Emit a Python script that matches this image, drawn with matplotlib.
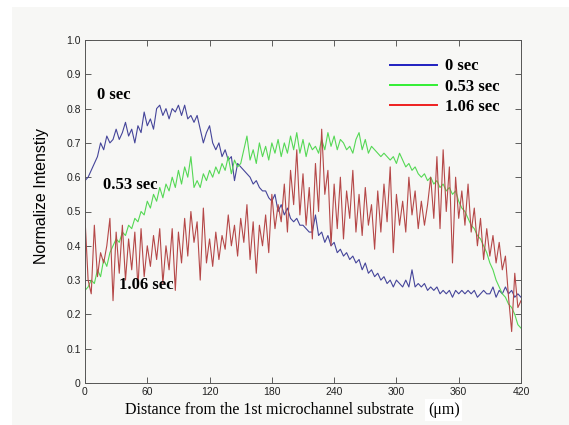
import numpy as np
import matplotlib
matplotlib.use("Agg")
import matplotlib.pyplot as plt
from matplotlib.lines import Line2D
from matplotlib.patches import Rectangle

# intensity profiles, one value every 3 um (0..420)
blue_0s = [0.59, 0.60, 0.62, 0.64, 0.66, 0.70, 0.68, 0.72, 0.70, 0.71,
           0.74, 0.71, 0.73, 0.76, 0.72, 0.74, 0.70, 0.75, 0.73, 0.79,
           0.75, 0.77, 0.74, 0.80, 0.81, 0.78, 0.80, 0.77, 0.80, 0.79,
           0.81, 0.78, 0.81, 0.77, 0.78, 0.76, 0.78, 0.74, 0.70, 0.73,
           0.75, 0.70, 0.68, 0.70, 0.66, 0.68, 0.65, 0.66, 0.59, 0.64,
           0.63, 0.62, 0.61, 0.60, 0.58, 0.59, 0.57, 0.56, 0.56, 0.54,
           0.53, 0.55, 0.50, 0.52, 0.49, 0.51, 0.48, 0.47, 0.48, 0.46,
           0.46, 0.45, 0.44, 0.44, 0.49, 0.43, 0.44, 0.41, 0.43, 0.40,
           0.41, 0.38, 0.39, 0.37, 0.38, 0.36, 0.37, 0.35, 0.36, 0.33,
           0.35, 0.32, 0.33, 0.31, 0.32, 0.30, 0.31, 0.29, 0.30, 0.28,
           0.30, 0.29, 0.28, 0.30, 0.28, 0.33, 0.28, 0.29, 0.28, 0.29,
           0.27, 0.28, 0.27, 0.28, 0.26, 0.27, 0.26, 0.27, 0.25, 0.27,
           0.26, 0.27, 0.26, 0.27, 0.26, 0.27, 0.25, 0.26, 0.27, 0.26,
           0.26, 0.28, 0.25, 0.27, 0.26, 0.28, 0.26, 0.27, 0.25, 0.26,
           0.25]

green_053s = [0.27, 0.28, 0.30, 0.29, 0.33, 0.31, 0.36, 0.34, 0.38, 0.40,
              0.42, 0.41, 0.44, 0.43, 0.46, 0.45, 0.48, 0.47, 0.50, 0.49,
              0.53, 0.51, 0.55, 0.53, 0.57, 0.54, 0.58, 0.56, 0.60, 0.57,
              0.62, 0.58, 0.63, 0.60, 0.66, 0.57, 0.59, 0.57, 0.61, 0.59,
              0.62, 0.60, 0.63, 0.61, 0.64, 0.62, 0.66, 0.61, 0.65, 0.63,
              0.64, 0.68, 0.72, 0.65, 0.68, 0.64, 0.70, 0.66, 0.69, 0.65,
              0.70, 0.67, 0.71, 0.66, 0.70, 0.67, 0.72, 0.68, 0.73, 0.67,
              0.71, 0.66, 0.70, 0.68, 0.69, 0.67, 0.71, 0.68, 0.73, 0.69,
              0.72, 0.68, 0.71, 0.70, 0.68, 0.69, 0.67, 0.71, 0.73, 0.68,
              0.71, 0.67, 0.69, 0.68, 0.67, 0.66, 0.67, 0.66, 0.65, 0.66,
              0.64, 0.67, 0.65, 0.63, 0.64, 0.62, 0.63, 0.61, 0.60, 0.61,
              0.59, 0.60, 0.58, 0.59, 0.57, 0.58, 0.56, 0.57, 0.55, 0.56,
              0.53, 0.51, 0.50, 0.48, 0.46, 0.45, 0.43, 0.42, 0.40, 0.38,
              0.35, 0.33, 0.30, 0.28, 0.26, 0.25, 0.23, 0.22, 0.20, 0.17,
              0.16]

red_106s = [0.48, 0.30, 0.26, 0.46, 0.31, 0.38, 0.35, 0.40, 0.48, 0.24,
            0.44, 0.32, 0.46, 0.30, 0.42, 0.33, 0.44, 0.28, 0.45, 0.31,
            0.40, 0.34, 0.43, 0.36, 0.45, 0.29, 0.40, 0.33, 0.45, 0.27,
            0.44, 0.35, 0.48, 0.37, 0.50, 0.41, 0.47, 0.30, 0.51, 0.35,
            0.42, 0.34, 0.44, 0.36, 0.43, 0.39, 0.49, 0.40, 0.46, 0.37,
            0.48, 0.41, 0.52, 0.36, 0.47, 0.32, 0.46, 0.40, 0.49, 0.38,
            0.55, 0.45, 0.52, 0.47, 0.58, 0.44, 0.62, 0.52, 0.68, 0.49,
            0.61, 0.46, 0.57, 0.42, 0.64, 0.50, 0.74, 0.55, 0.62, 0.40,
            0.58, 0.45, 0.60, 0.42, 0.56, 0.48, 0.62, 0.44, 0.55, 0.43,
            0.57, 0.46, 0.52, 0.39, 0.56, 0.44, 0.58, 0.47, 0.63, 0.38,
            0.55, 0.46, 0.53, 0.44, 0.60, 0.49, 0.56, 0.45, 0.53, 0.46,
            0.52, 0.60, 0.48, 0.66, 0.45, 0.68, 0.50, 0.63, 0.35, 0.60,
            0.48, 0.56, 0.46, 0.58, 0.44, 0.51, 0.40, 0.48, 0.36, 0.45,
            0.37, 0.43, 0.35, 0.41, 0.33, 0.37, 0.25, 0.15, 0.32, 0.22,
            0.24]

labels = ["0 sec", "0.53 sec", "1.06 sec"]
xticks = [0, 60, 120, 180, 240, 300, 360, 420]
yticks = [0, 0.1, 0.2, 0.3, 0.4, 0.5, 0.6, 0.7, 0.8, 0.9, 1.0]

W, H = 569, 425
fig = plt.figure(figsize=(W / 100, H / 100), dpi=100)
fig.patch.set_facecolor("white")
fig.patches.append(Rectangle((12 / W, 0), 1, 1 - 7 / H, transform=fig.transFigure,
                             facecolor="#f7f7f5", edgecolor="none", zorder=-10))

ax = fig.add_axes([85 / W, 1 - 383 / H, 436 / W, 343 / H])
ax.set_facecolor("#f7f7f5")

serif = ["Liberation Serif", "DejaVu Serif"]
sans = ["Liberation Sans", "DejaVu Sans"]

for vals, col in [(blue_0s, "#45459a"), (green_053s, "#55d855"), (red_106s, "#b54848")]:
    x = np.linspace(0, 420, len(vals))
    ax.plot(x, vals, color=col, lw=0.8)

ax.set_xlim(0, 420)
ax.set_ylim(0, 1.0)
ax.set_xticks(xticks)
ax.set_xticklabels([str(t) for t in xticks])
ax.set_yticks(yticks)
ax.set_yticklabels(["0"] + ["%.1f" % t for t in yticks[1:]])
ax.tick_params(direction="in", top=True, right=True, length=4, width=0.6,
               colors="#444444", labelsize=7.5, pad=3)
for lab in ax.get_xticklabels() + ax.get_yticklabels():
    lab.set_family(sans)
    lab.set_color("#222222")
for s in ax.spines.values():
    s.set_color("#555555")
    s.set_linewidth(0.7)

ax.set_ylabel("Normalize Intenstiy", family=sans, fontsize=11.5)
ax.yaxis.set_label_coords(-0.083, 0.545)

fig.text(125 / W, 1 - 410 / H, "Distance from the 1st microchannel substrate",
         family=serif, fontsize=11.5, va="center", ha="left")
fig.text(428 / W, 1 - 410 / H, "(\u03bcm)", family=serif, fontsize=11.5,
         va="center", ha="left",
         bbox=dict(facecolor="white", edgecolor="none", pad=2))

# annotations next to the curves
ax.text(11.5, 0.84, "0 sec", family=serif, weight="bold", fontsize=12, va="center")
ax.text(17, 0.577, "0.53 sec", family=serif, weight="bold", fontsize=12, va="center")
ax.text(33, 0.286, "1.06 sec", family=serif, weight="bold", fontsize=12, va="center")

handles = [Line2D([], [], color=c, lw=1.4) for c in ["#2020c0", "#33ee33", "#ee2020"]]
ax.legend(handles, labels, loc="upper left", bbox_to_anchor=(0.665, 0.99),
          frameon=False, handlelength=2.8, handletextpad=0.5, labelspacing=0.25,
          prop=dict(family=serif, weight="bold", size=12))

fig.savefig("out.png", dpi=100, facecolor=fig.get_facecolor())
